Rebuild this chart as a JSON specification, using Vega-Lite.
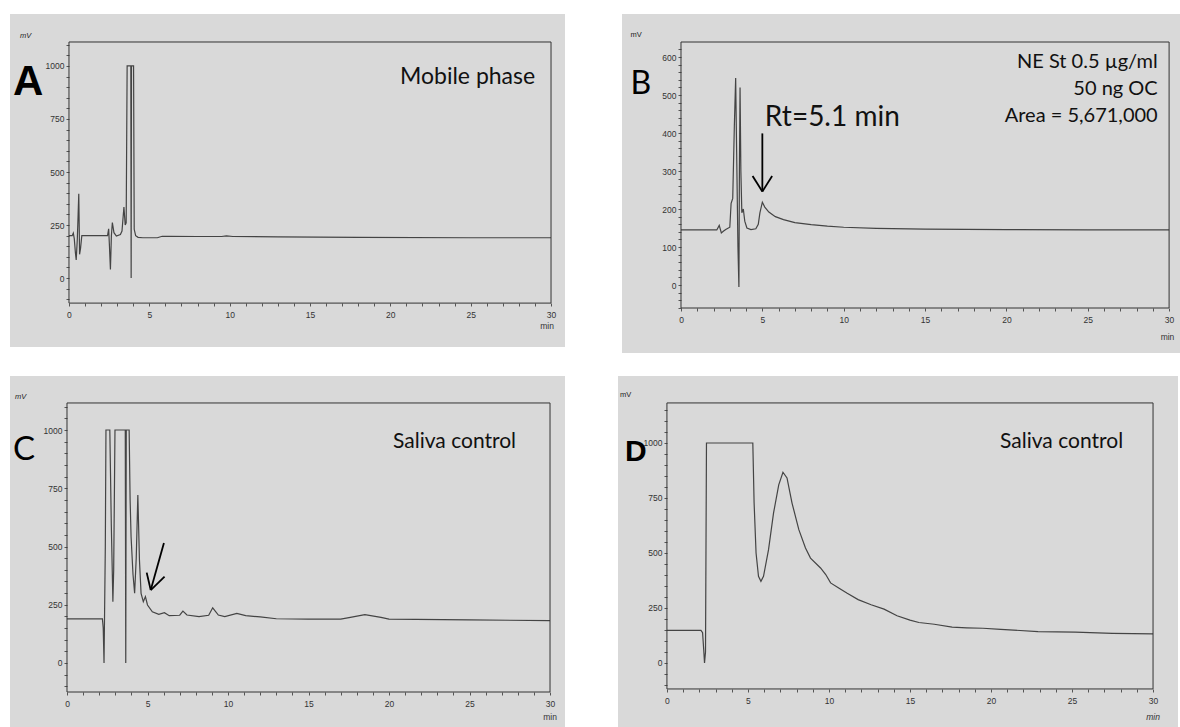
{
"$schema": "https://vega.github.io/schema/vega-lite/v6.json",
"background": "white",
"padding": {"left": 10, "top": 14, "right": 0, "bottom": 0},
"config": {"view": {"fill": "#d9d9d9", "stroke": null}, "axis": {"tickCount": 200, "labelOverlap": false, "labelFlush": false, "domain": false, "grid": false, "tickSize": 3, "tickColor": "#555", "labelFontSize": 8.5, "labelFont": "Liberation Sans", "labelColor": "#333", "format": "d"}},
"spacing": 23,
"vconcat": [
{"spacing": 57, "hconcat": [
{"width": 555, "height": 333, "layer": [
{"data": {"values": [{"t":0,"v":200},{"t":0.2,"v":200},{"t":0.27,"v":212},{"t":0.33,"v":186},{"t":0.4,"v":120},{"t":0.45,"v":85},{"t":0.52,"v":185},{"t":0.57,"v":300},{"t":0.61,"v":398},{"t":0.66,"v":112},{"t":0.72,"v":140},{"t":0.8,"v":200},{"t":2.4,"v":200},{"t":2.47,"v":232},{"t":2.52,"v":150},{"t":2.58,"v":40},{"t":2.64,"v":200},{"t":2.7,"v":262},{"t":2.8,"v":214},{"t":2.95,"v":198},{"t":3.2,"v":205},{"t":3.3,"v":222},{"t":3.42,"v":335},{"t":3.5,"v":250},{"t":3.56,"v":260},{"t":3.62,"v":1000},{"t":3.85,"v":1000},{"t":3.87,"v":0},{"t":3.89,"v":1000},{"t":4.02,"v":1000},{"t":4.06,"v":230},{"t":4.15,"v":200},{"t":4.3,"v":192},{"t":4.6,"v":190},{"t":5.5,"v":190},{"t":5.8,"v":197},{"t":6.2,"v":197},{"t":8,"v":196},{"t":9.5,"v":196},{"t":9.8,"v":199},{"t":10.2,"v":196},{"t":13,"v":194},{"t":18,"v":192},{"t":25,"v":190},{"t":30,"v":190}]},
 "mark": {"type": "line", "color": "#444", "strokeWidth": 1.2},
 "encoding": {
  "x": {"field": "t", "type": "quantitative", "title": null, "scale": {"domain": [-3.67, 30.87], "nice": false, "zero": false},
   "axis": {"values": [0,1,2,3,4,5,6,7,8,9,10,11,12,13,14,15,16,17,18,19,20,21,22,23,24,25,26,27,28,29,30], "format": "d", "labelExpr": "datum.value % 5 === 0 ? datum.label : ''", "offset": -44, "title": null, "labelPadding": 4}},
  "y": {"field": "v", "type": "quantitative", "title": null, "scale": {"domain": [-325, 1245], "nice": false, "zero": false},
   "axis": {"values": [-100,-50,0,50,100,150,200,250,300,350,400,450,500,550,600,650,700,750,800,850,900,950,1000,1050,1100], "format": "d", "labelExpr": "datum.value >= 0 && datum.value % 250 === 0 ? datum.label : ''", "offset": -59, "title": null, "labelPadding": 2}}
 }},
{"data": {"values": [{}]}, "mark": {"type": "rect", "filled": false, "stroke": "#333", "strokeWidth": 1},
 "encoding": {"x": {"datum": 0, "type": "quantitative", "title": null}, "x2": {"datum": 30}, "y": {"datum": -118, "type": "quantitative", "title": null}, "y2": {"datum": 1113}}},
{"data": {"values": [{}]}, "mark": {"type": "text", "text": "A", "font": "Liberation Sans", "fontWeight": "bold", "fontSize": 42, "align": "left", "baseline": "alphabetic", "color": "#000"},
 "encoding": {"x": {"datum": -3.48, "type": "quantitative", "title": null}, "y": {"datum": 863, "type": "quantitative", "title": null}}},
{"data": {"values": [{}]}, "mark": {"type": "text", "text": "mV", "font": "Liberation Sans", "fontStyle": "italic", "fontSize": 7.5, "align": "left", "baseline": "alphabetic", "color": "#222"},
 "encoding": {"x": {"datum": -3.05, "type": "quantitative", "title": null}, "y": {"datum": 1132, "type": "quantitative", "title": null}}},
{"data": {"values": [{}]}, "mark": {"type": "text", "text": "min", "font": "Liberation Sans", "fontSize": 8.5, "align": "center", "baseline": "alphabetic", "color": "#333"},
 "encoding": {"x": {"datum": 29.75, "type": "quantitative", "title": null}, "y": {"datum": -240, "type": "quantitative", "title": null}}},
{"data": {"values": [{}]}, "mark": {"type": "text", "text": "Mobile phase", "font": "Lato", "fontSize": 23, "align": "left", "baseline": "alphabetic", "color": "#111"},
 "encoding": {"x": {"datum": 20.6, "type": "quantitative", "title": null}, "y": {"datum": 915, "type": "quantitative", "title": null}}}
]},
{"width": 558, "height": 339, "layer": [
{"data": {"values": [{"t":0,"v":145},{"t":2.2,"v":145},{"t":2.35,"v":157},{"t":2.48,"v":137},{"t":2.62,"v":142},{"t":2.75,"v":146},{"t":3.0,"v":152},{"t":3.08,"v":215},{"t":3.18,"v":228},{"t":3.28,"v":420},{"t":3.36,"v":545},{"t":3.42,"v":350},{"t":3.5,"v":100},{"t":3.56,"v":-5},{"t":3.59,"v":300},{"t":3.63,"v":520},{"t":3.68,"v":300},{"t":3.74,"v":190},{"t":3.83,"v":200},{"t":3.92,"v":168},{"t":4.05,"v":150},{"t":4.3,"v":146},{"t":4.6,"v":148},{"t":4.75,"v":160},{"t":4.85,"v":190},{"t":5.0,"v":218},{"t":5.15,"v":205},{"t":5.4,"v":192},{"t":5.8,"v":180},{"t":6.3,"v":172},{"t":7,"v":164},{"t":8,"v":159},{"t":9,"v":155},{"t":10,"v":152},{"t":12,"v":149},{"t":15,"v":147},{"t":20,"v":146},{"t":25,"v":145},{"t":30,"v":145}]},
 "mark": {"type": "line", "color": "#444", "strokeWidth": 1.2},
 "encoding": {
  "x": {"field": "t", "type": "quantitative", "title": null, "scale": {"domain": [-3.626, 30.67], "nice": false, "zero": false},
   "axis": {"values": [0,1,2,3,4,5,6,7,8,9,10,11,12,13,14,15,16,17,18,19,20,21,22,23,24,25,26,27,28,29,30], "format": "d", "labelExpr": "datum.value % 5 === 0 ? datum.label : ''", "offset": -45, "title": null, "labelPadding": 4}},
  "y": {"field": "v", "type": "quantitative", "title": null, "scale": {"domain": [-178.9, 713.2], "nice": false, "zero": false},
   "axis": {"values": [-60,-40,-20,0,20,40,60,80,100,120,140,160,180,200,220,240,260,280,300,320,340,360,380,400,420,440,460,480,500,520,540,560,580,600,620], "format": "d", "labelExpr": "datum.value >= 0 && datum.value % 100 === 0 ? datum.label : ''", "offset": -59, "title": null, "labelPadding": 2}}
 }},
{"data": {"values": [{}]}, "mark": {"type": "rect", "filled": false, "stroke": "#333", "strokeWidth": 1},
 "encoding": {"x": {"datum": 0, "type": "quantitative", "title": null}, "x2": {"datum": 30}, "y": {"datum": -60.5, "type": "quantitative", "title": null}, "y2": {"datum": 639.5}}},
{"data": {"values": [{}]}, "mark": {"type": "text", "text": "B", "font": "Lato", "fontSize": 32, "align": "left", "baseline": "alphabetic", "color": "#000"},
 "encoding": {"x": {"datum": -3.1, "type": "quantitative", "title": null}, "y": {"datum": 503, "type": "quantitative", "title": null}}},
{"data": {"values": [{}]}, "mark": {"type": "text", "text": "mV", "font": "Liberation Sans", "fontSize": 7.5, "align": "left", "baseline": "alphabetic", "color": "#222"},
 "encoding": {"x": {"datum": -3.1, "type": "quantitative", "title": null}, "y": {"datum": 653, "type": "quantitative", "title": null}}},
{"data": {"values": [{}]}, "mark": {"type": "text", "text": "min", "font": "Liberation Sans", "fontSize": 8.5, "align": "center", "baseline": "alphabetic", "color": "#333"},
 "encoding": {"x": {"datum": 29.9, "type": "quantitative", "title": null}, "y": {"datum": -145, "type": "quantitative", "title": null}}},
{"data": {"values": [{}]}, "mark": {"type": "text", "text": "Rt=5.1 min", "font": "Lato", "fontSize": 28, "align": "left", "baseline": "alphabetic", "color": "#111"},
 "encoding": {"x": {"datum": 5.15, "type": "quantitative", "title": null}, "y": {"datum": 418, "type": "quantitative", "title": null}}},
{"data": {"values": [{}]}, "mark": {"type": "text", "text": ["NE St 0.5 µg/ml", "50 ng OC", "Area = 5,671,000"], "lineHeight": 27, "font": "Lato", "fontSize": 20, "align": "right", "baseline": "alphabetic", "color": "#111"},
 "encoding": {"x": {"datum": 29.3, "type": "quantitative", "title": null}, "y": {"datum": 571, "type": "quantitative", "title": null}}},
{"data": {"values": [{}]}, "mark": {"type": "rule", "color": "#000", "strokeWidth": 1.8},
 "encoding": {"x": {"datum": 5.0, "type": "quantitative", "title": null}, "x2": {"datum": 5.0}, "y": {"datum": 399, "type": "quantitative", "title": null}, "y2": {"datum": 246}}},
{"data": {"values": [{}]}, "mark": {"type": "rule", "color": "#000", "strokeWidth": 1.8},
 "encoding": {"x": {"datum": 4.4, "type": "quantitative", "title": null}, "x2": {"datum": 5.0}, "y": {"datum": 287, "type": "quantitative", "title": null}, "y2": {"datum": 246}}},
{"data": {"values": [{}]}, "mark": {"type": "rule", "color": "#000", "strokeWidth": 1.8},
 "encoding": {"x": {"datum": 5.6, "type": "quantitative", "title": null}, "x2": {"datum": 5.0}, "y": {"datum": 287, "type": "quantitative", "title": null}, "y2": {"datum": 246}}}
]}
]},
{"spacing": 53, "hconcat": [
{"width": 555, "height": 351, "layer": [
{"data": {"values": [{"t":0,"v":189},{"t":2.2,"v":189},{"t":2.25,"v":150},{"t":2.3,"v":0},{"t":2.38,"v":500},{"t":2.42,"v":1000},{"t":2.66,"v":1000},{"t":2.75,"v":600},{"t":2.85,"v":263},{"t":2.9,"v":400},{"t":2.98,"v":1000},{"t":3.62,"v":1000},{"t":3.65,"v":0},{"t":3.68,"v":1000},{"t":3.86,"v":1000},{"t":3.92,"v":700},{"t":3.98,"v":542},{"t":4.1,"v":380},{"t":4.2,"v":300},{"t":4.3,"v":450},{"t":4.4,"v":721},{"t":4.5,"v":442},{"t":4.6,"v":299},{"t":4.74,"v":263},{"t":4.87,"v":285},{"t":5.0,"v":249},{"t":5.3,"v":220},{"t":5.7,"v":209},{"t":6.05,"v":216},{"t":6.35,"v":203},{"t":7.0,"v":205},{"t":7.2,"v":223},{"t":7.45,"v":206},{"t":8.2,"v":199},{"t":8.8,"v":205},{"t":9.05,"v":237},{"t":9.4,"v":206},{"t":9.8,"v":199},{"t":10.55,"v":213},{"t":11.1,"v":203},{"t":12,"v":198},{"t":13,"v":190},{"t":15,"v":188},{"t":17,"v":188},{"t":17.6,"v":196},{"t":18.5,"v":208},{"t":19.5,"v":196},{"t":20,"v":188},{"t":25,"v":185},{"t":30,"v":182}]},
 "mark": {"type": "line", "color": "#444", "strokeWidth": 1.2},
 "encoding": {
  "x": {"field": "t", "type": "quantitative", "title": null, "scale": {"domain": [-3.54, 30.93], "nice": false, "zero": false},
   "axis": {"values": [0,1,2,3,4,5,6,7,8,9,10,11,12,13,14,15,16,17,18,19,20,21,22,23,24,25,26,27,28,29,30], "format": "d", "labelExpr": "datum.value % 5 === 0 ? datum.label : ''", "offset": -35, "title": null, "labelPadding": 4}},
  "y": {"field": "v", "type": "quantitative", "title": null, "scale": {"domain": [-274.7, 1231.8], "nice": false, "zero": false},
   "axis": {"values": [-100,-50,0,50,100,150,200,250,300,350,400,450,500,550,600,650,700,750,800,850,900,950,1000,1050,1100], "format": "d", "labelExpr": "datum.value >= 0 && datum.value % 250 === 0 ? datum.label : ''", "offset": -57, "title": null, "labelPadding": 2}}
 }},
{"data": {"values": [{}]}, "mark": {"type": "rect", "filled": false, "stroke": "#333", "strokeWidth": 1},
 "encoding": {"x": {"datum": 0, "type": "quantitative", "title": null}, "x2": {"datum": 30}, "y": {"datum": -124.5, "type": "quantitative", "title": null}, "y2": {"datum": 1116}}},
{"data": {"values": [{}]}, "mark": {"type": "text", "text": "C", "font": "Lato", "fontSize": 33, "align": "left", "baseline": "alphabetic", "color": "#000"},
 "encoding": {"x": {"datum": -3.35, "type": "quantitative", "title": null}, "y": {"datum": 871, "type": "quantitative", "title": null}}},
{"data": {"values": [{}]}, "mark": {"type": "text", "text": "mV", "font": "Liberation Sans", "fontStyle": "italic", "fontSize": 7.5, "align": "left", "baseline": "alphabetic", "color": "#222"},
 "encoding": {"x": {"datum": -3.23, "type": "quantitative", "title": null}, "y": {"datum": 1133, "type": "quantitative", "title": null}}},
{"data": {"values": [{}]}, "mark": {"type": "text", "text": "min", "font": "Liberation Sans", "fontSize": 8.5, "align": "center", "baseline": "alphabetic", "color": "#333"},
 "encoding": {"x": {"datum": 30, "type": "quantitative", "title": null}, "y": {"datum": -245, "type": "quantitative", "title": null}}},
{"data": {"values": [{}]}, "mark": {"type": "text", "text": "Saliva control", "font": "Lato", "fontSize": 21, "align": "left", "baseline": "alphabetic", "color": "#111"},
 "encoding": {"x": {"datum": 20.25, "type": "quantitative", "title": null}, "y": {"datum": 923, "type": "quantitative", "title": null}}},
{"data": {"values": [{}]}, "mark": {"type": "rule", "color": "#000", "strokeWidth": 1.8},
 "encoding": {"x": {"datum": 6.02, "type": "quantitative", "title": null}, "x2": {"datum": 5.2}, "y": {"datum": 515, "type": "quantitative", "title": null}, "y2": {"datum": 313}}},
{"data": {"values": [{}]}, "mark": {"type": "rule", "color": "#000", "strokeWidth": 1.8},
 "encoding": {"x": {"datum": 4.95, "type": "quantitative", "title": null}, "x2": {"datum": 5.2}, "y": {"datum": 388, "type": "quantitative", "title": null}, "y2": {"datum": 313}}},
{"data": {"values": [{}]}, "mark": {"type": "rule", "color": "#000", "strokeWidth": 1.8},
 "encoding": {"x": {"datum": 6.06, "type": "quantitative", "title": null}, "x2": {"datum": 5.2}, "y": {"datum": 371, "type": "quantitative", "title": null}, "y2": {"datum": 313}}}
]},
{"width": 560, "height": 351, "layer": [
{"data": {"values": [{"t":0,"v":148},{"t":2.1,"v":148},{"t":2.2,"v":138},{"t":2.27,"v":60},{"t":2.32,"v":0},{"t":2.38,"v":50},{"t":2.44,"v":1000},{"t":5.3,"v":1000},{"t":5.38,"v":727},{"t":5.5,"v":500},{"t":5.65,"v":394},{"t":5.8,"v":371},{"t":5.96,"v":394},{"t":6.27,"v":515},{"t":6.58,"v":682},{"t":6.9,"v":810},{"t":7.16,"v":867},{"t":7.41,"v":841},{"t":7.72,"v":727},{"t":8.14,"v":606},{"t":8.55,"v":523},{"t":8.86,"v":477},{"t":9.48,"v":432},{"t":9.8,"v":402},{"t":10.1,"v":364},{"t":10.6,"v":341},{"t":11.1,"v":318},{"t":11.8,"v":288},{"t":12.6,"v":265},{"t":13.4,"v":245},{"t":14.2,"v":215},{"t":15.0,"v":195},{"t":15.55,"v":184},{"t":16.5,"v":176},{"t":17.6,"v":163},{"t":18.5,"v":160},{"t":19.5,"v":158},{"t":20.6,"v":153},{"t":22.9,"v":143},{"t":25.2,"v":140},{"t":27.5,"v":135},{"t":30,"v":132}]},
 "mark": {"type": "line", "color": "#444", "strokeWidth": 1.2},
 "encoding": {
  "x": {"field": "t", "type": "quantitative", "title": null, "scale": {"domain": [-3.02, 31.54], "nice": false, "zero": false},
   "axis": {"values": [0,1,2,3,4,5,6,7,8,9,10,11,12,13,14,15,16,17,18,19,20,21,22,23,24,25,26,27,28,29,30], "format": "d", "labelExpr": "datum.value % 5 === 0 ? datum.label : ''", "offset": -38, "title": null, "labelPadding": 4}},
  "y": {"field": "v", "type": "quantitative", "title": null, "scale": {"domain": [-290.9, 1304.5], "nice": false, "zero": false},
   "axis": {"values": [-100,-50,0,50,100,150,200,250,300,350,400,450,500,550,600,650,700,750,800,850,900,950,1000,1050,1100,1150], "format": "d", "labelExpr": "datum.value >= 0 && datum.value % 250 === 0 ? datum.label : ''", "offset": -49, "title": null, "labelPadding": 2}}
 }},
{"data": {"values": [{}]}, "mark": {"type": "rect", "filled": false, "stroke": "#333", "strokeWidth": 1},
 "encoding": {"x": {"datum": 0, "type": "quantitative", "title": null}, "x2": {"datum": 30}, "y": {"datum": -118, "type": "quantitative", "title": null}, "y2": {"datum": 1182}}},
{"data": {"values": [{}]}, "mark": {"type": "text", "text": "D", "font": "Liberation Sans", "fontWeight": "bold", "fontSize": 30, "align": "left", "baseline": "alphabetic", "color": "#000"},
 "encoding": {"x": {"datum": -2.59, "type": "quantitative", "title": null}, "y": {"datum": 918, "type": "quantitative", "title": null}}},
{"data": {"values": [{}]}, "mark": {"type": "text", "text": "mV", "font": "Liberation Sans", "fontSize": 7.5, "align": "left", "baseline": "alphabetic", "color": "#222"},
 "encoding": {"x": {"datum": -2.9, "type": "quantitative", "title": null}, "y": {"datum": 1209, "type": "quantitative", "title": null}}},
{"data": {"values": [{}]}, "mark": {"type": "text", "text": "min", "font": "Liberation Sans", "fontStyle": "italic", "fontSize": 8.5, "align": "center", "baseline": "alphabetic", "color": "#333"},
 "encoding": {"x": {"datum": 30, "type": "quantitative", "title": null}, "y": {"datum": -259, "type": "quantitative", "title": null}}},
{"data": {"values": [{}]}, "mark": {"type": "text", "text": "Saliva control", "font": "Lato", "fontSize": 21, "align": "left", "baseline": "alphabetic", "color": "#111"},
 "encoding": {"x": {"datum": 20.56, "type": "quantitative", "title": null}, "y": {"datum": 977, "type": "quantitative", "title": null}}}
]}
]}
]
}
